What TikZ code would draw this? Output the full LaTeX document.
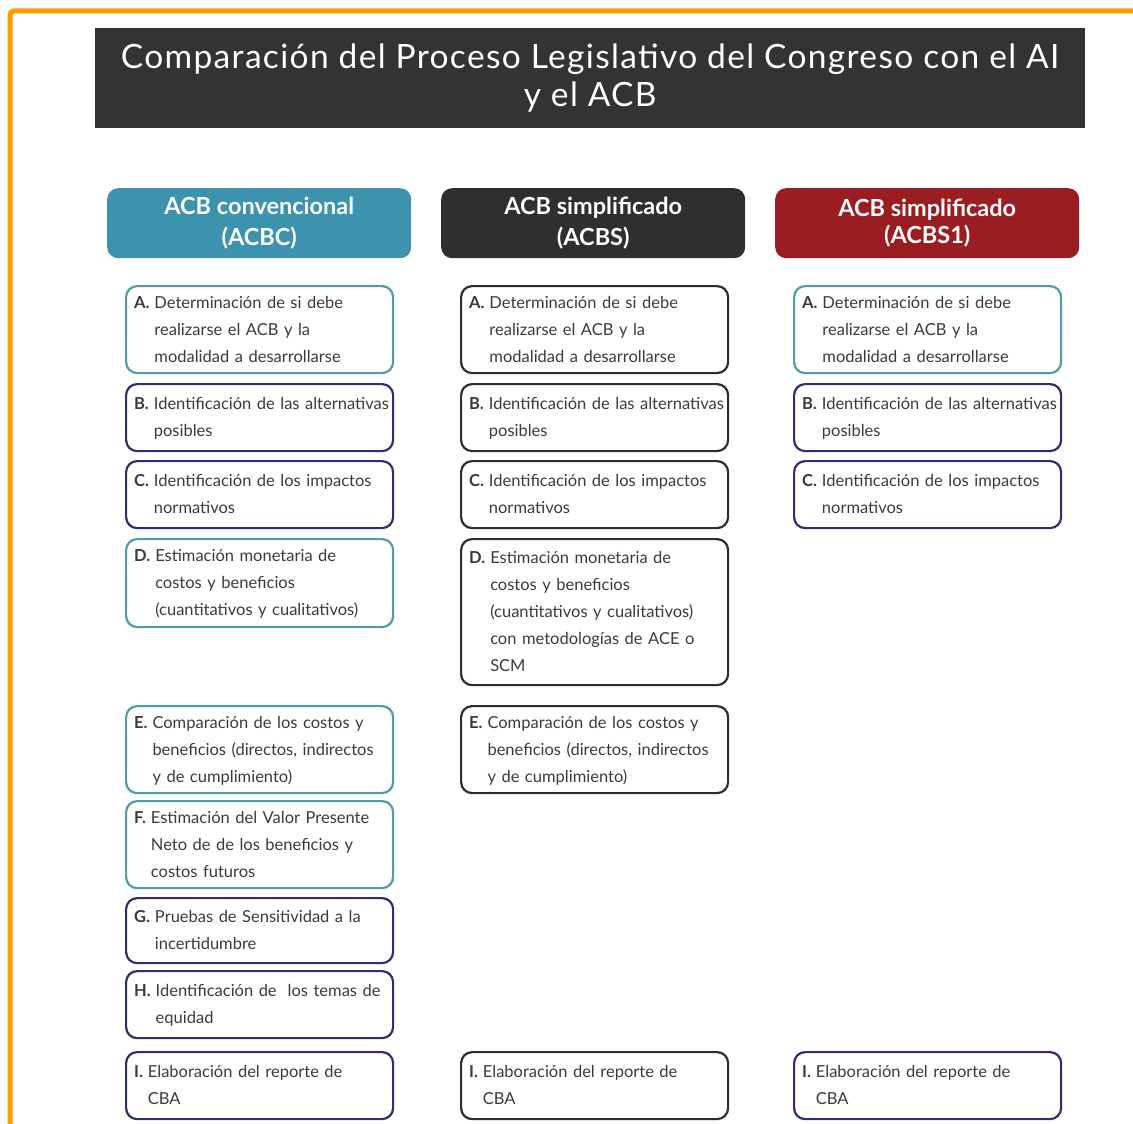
\documentclass[tikz,border=0pt]{standalone}
\usepackage{fontspec}
\setmainfont{Lato}
\newfontfamily\titlefont[LetterSpace=4]{Lato}
\definecolor{frameOrange}{HTML}{FF9A00}
\definecolor{titleGray}{HTML}{333333}
\definecolor{headTeal}{HTML}{3D93AD}
\definecolor{headDark}{HTML}{2F2F2F}
\definecolor{headRed}{HTML}{9A1D22}
\definecolor{tealEdge}{HTML}{4E9DA8}
\definecolor{navyEdge}{HTML}{2C3070}
\definecolor{grayEdge}{HTML}{2E2E2E}
\definecolor{stepInk}{HTML}{3A3A3A}
\newcommand{\stepText}[2]{%
  \begin{tabular}[t]{@{}l@{\hspace{5pt}}l@{}}\textbf{#1}&\begin{tabular}[t]{@{}l@{}}#2\end{tabular}\end{tabular}}

\begin{document}
\begin{tikzpicture}
[x=1pt,y=-1pt,
  titleDecorate/.style={anchor=north west,fill=titleGray,minimum width=990pt,minimum height=100pt,
    text=white,align=center,font=\titlefont\fontsize{33.5}{38}\selectfont},%
  headDecorate/.style={anchor=north west,rounded corners=11pt,minimum width=304pt,minimum height=70pt,
    text=white,align=center,font=\bfseries\fontsize{23.5}{31}\selectfont},%
  stepDecorate/.style={anchor=north west,draw,line width=2.2pt,rounded corners=11pt,
    minimum width=267pt,text width=251pt,inner xsep=8pt,inner ysep=0pt,align=left,
    text=stepInk,font=\fontsize{16.5}{27}\selectfont}]
\useasboundingbox (0,0) rectangle (1133,1124);
%% frame
\draw[frameOrange,line width=5pt,rounded corners=4pt] (10,1124) -- (10,11) -- (1133,11);
%% title
\node[titleDecorate] (title) at (95,28) {Comparación del Proceso Legislativo del Congreso con el AI\\y el ACB};
%% column heads
\node[headDecorate,fill=headTeal] (acbcHead) at (107,188) {ACB convencional\\(ACBC)};
\node[headDecorate,fill=headDark] (acbsHead) at (441,188) {ACB simplificado\\(ACBS)};
\node[headDecorate,fill=headRed,font=\bfseries\fontsize{23.5}{27}\selectfont] (acbsoneHead) at (775,188) {ACB simplificado\\(ACBS1)};
%% steps shared by all columns
\foreach \colname/\x/\edgeA/\edgeB in {acbc/125/tealEdge/navyEdge, acbs/460/grayEdge/grayEdge, acbsone/793/tealEdge/navyEdge}
{
  \node[stepDecorate,draw=\edgeA,minimum height=87pt] (\colname A) at (\x,285)
    {\stepText{A.}{Determinación de si debe\\realizarse el ACB y la\\modalidad a desarrollarse}};
  \node[stepDecorate,draw=\edgeB,minimum height=67pt] (\colname B) at (\x,383)
    {\stepText{B.}{Identificación de las alternativas\\posibles}};
  \node[stepDecorate,draw=\edgeB,minimum height=67pt] (\colname C) at (\x,460)
    {\stepText{C.}{Identificación de los impactos\\normativos}};
  \node[stepDecorate,draw=\edgeB,minimum height=67pt] (\colname I) at (\x,1051)
    {\stepText{I.}{Elaboración del reporte de\\CBA}};
}
%% steps of ACBC only
\node[stepDecorate,draw=tealEdge,minimum height=88pt] (acbcD) at (125,538)
  {\stepText{D.}{Estimación monetaria de\\costos y beneficios\\(cuantitativos y cualitativos)}};
\node[stepDecorate,draw=tealEdge,minimum height=87pt] (acbcE) at (125,705)
  {\stepText{E.}{Comparación de los costos y\\beneficios (directos, indirectos\\y de cumplimiento)}};
\node[stepDecorate,draw=tealEdge,minimum height=87pt] (acbcF) at (125,800)
  {\stepText{F.}{Estimación del Valor Presente\\Neto de de los beneficios y\\costos futuros}};
\node[stepDecorate,draw=navyEdge,minimum height=65pt] (acbcG) at (125,897)
  {\stepText{G.}{Pruebas de Sensitividad a la\\incertidumbre}};
\node[stepDecorate,draw=navyEdge,minimum height=67pt] (acbcH) at (125,970)
  {\stepText{H.}{Identificación de\ \ los temas de\\equidad}};
%% steps of ACBS only
\node[stepDecorate,draw=grayEdge,minimum height=146pt] (acbsD) at (460,538)
  {\stepText{D.}{Estimación monetaria de\\costos y beneficios\\(cuantitativos y cualitativos)\\con metodologías de ACE o\\SCM}};
\node[stepDecorate,draw=grayEdge,minimum height=87pt] (acbsE) at (460,705)
  {\stepText{E.}{Comparación de los costos y\\beneficios (directos, indirectos\\y de cumplimiento)}};
\end{tikzpicture}
\end{document}
